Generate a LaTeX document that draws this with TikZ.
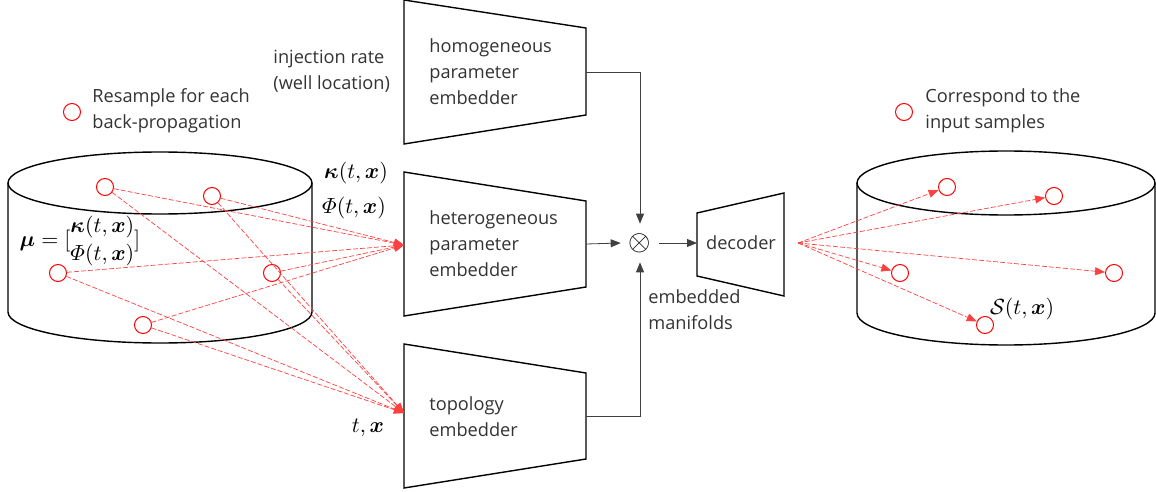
\documentclass[tikz,border=0pt]{standalone}
\usepackage{amsmath}
\usepackage{bm}
\usepackage[no-math]{fontspec}
\setmainfont{Open Sans}
\usetikzlibrary{arrows.meta}

\newcommand{\embfont}{\fontsize{9.1}{13}\selectfont}
\newcommand{\mathsz}{\fontsize{11}{13}\selectfont}

\tikzset{
    embtext/.style={align=left, anchor=west, font=\embfont, text=black!80, inner sep=0pt},
    mathlabel/.style={font=\mathsz, inner sep=0pt},
    sample/.style={circle, draw=red, minimum size=8.5pt, inner sep=0pt, line width=0.5pt},
    samplink/.style={draw=red!75, dash pattern=on 2.5pt off 1pt, line width=0.35pt, -{Triangle[length=5pt,width=4pt]}},
    flow/.style={draw=black!75, line width=0.4pt, -{Triangle[length=5pt,width=4pt]}},
    block/.style={draw=black, line width=0.7pt, line join=miter},
    drum/.style={draw=black, line width=0.7pt}
}

\begin{document}
\begin{tikzpicture}[x=0.5pt, y=-0.5pt]
    \useasboundingbox (0,0) rectangle (1156,492);

    % data sets
    \draw[drum] (160,183) ellipse [x radius=76pt, y radius=15.5pt];
    \draw[drum] (8,183) -- (8,312) arc [start angle=180, end angle=360, x radius=76pt, y radius=15.5pt] -- (312,183);
    \draw[drum] (1006,183) ellipse [x radius=74.5pt, y radius=16pt];
    \draw[drum] (857,183) -- (857,313) arc [start angle=180, end angle=360, x radius=74.5pt, y radius=16pt] -- (1155,183);

    % embedders and decoder
    \draw[block] (404,0) -- (586,28) -- (586,115) -- (404,144) -- cycle;
    \draw[block] (404,172) -- (586,201) -- (586,287) -- (404,316) -- cycle;
    \draw[block] (404,344) -- (586,373) -- (586,459) -- (404,488) -- cycle;
    \draw[block] (697,213) -- (784,193) -- (784,296) -- (697,276) -- cycle;

    \coordinate (homout) at (586,72);
    \coordinate (hetin) at (404,245);
    \coordinate (hetout) at (586,244);
    \coordinate (topin) at (404,413);
    \coordinate (topout) at (586,416);
    \coordinate (decin) at (697,243);
    \coordinate (decout) at (798,243);

    \node[embtext] (homtext) at (429,72) {homogeneous\\parameter\\embedder};
    \node[embtext] (hettext) at (429,244) {heterogeneous\\parameter\\embedder};
    \node[embtext] (toptext) at (429,417) {topology\\embedder};
    \node[embtext, anchor=center] (dectext) at (741,243) {decoder};
    \node[embtext] (inject) at (273,71) {injection rate\\(well location)};
    \node[embtext] (manif) at (648,310) {embedded\\manifolds};

    \node[circle, inner sep=1.5pt, font=\Large] (mul) at (640,243) {$\otimes$};

    \draw[flow] (homout) -| (mul.north);
    \draw[flow] (hetout) -- (mul.west);
    \draw[flow] (topout) -| (mul.south);
    \draw[flow] (mul.east) -- (decin);

    % labels
    \node[mathlabel] (kap) at (356,173) {$\bm{\kappa}(t,\bm{x})$};
    \node[mathlabel] (phi) at (354,208) {$\varPhi(t,\bm{x})$};
    \node[mathlabel] (tx) at (368,428) {$t,\bm{x}$};
    \node[mathlabel] (mu) at (80,241) {$\bm{\mu}=[\renewcommand{\arraystretch}{1.05}\begin{matrix}\bm{\kappa}(t,\bm{x})\\ \varPhi(t,\bm{x})\end{matrix}]$};
    \node[mathlabel] (sol) at (1022,309) {$\mathcal{S}(t,\bm{x})$};

    % samples
    \foreach \n/\x/\y in {1/105/187, 2/212/196, 3/58/273, 4/272/273, 5/143/325} {
        \node[sample] (l\n) at (\x,\y) {};
        \node[sample] (r\n) at (\x+842,\y) {};
    }
    \foreach \n in {1,...,5} {
        \draw[samplink] (l\n) -- (hetin);
        \draw[samplink] (l\n) -- (topin);
        \draw[samplink] (decout) -- (r\n);
    }

    % legends
    \node[sample] (leg1) at (72,112) {};
    \node[embtext] (legtext1) at (92,111) {Resample for each\\back-propagation};
    \node[sample] (leg2) at (904,112) {};
    \node[embtext] (legtext2) at (925,111) {Correspond to the\\input samples};
\end{tikzpicture}
\end{document}
